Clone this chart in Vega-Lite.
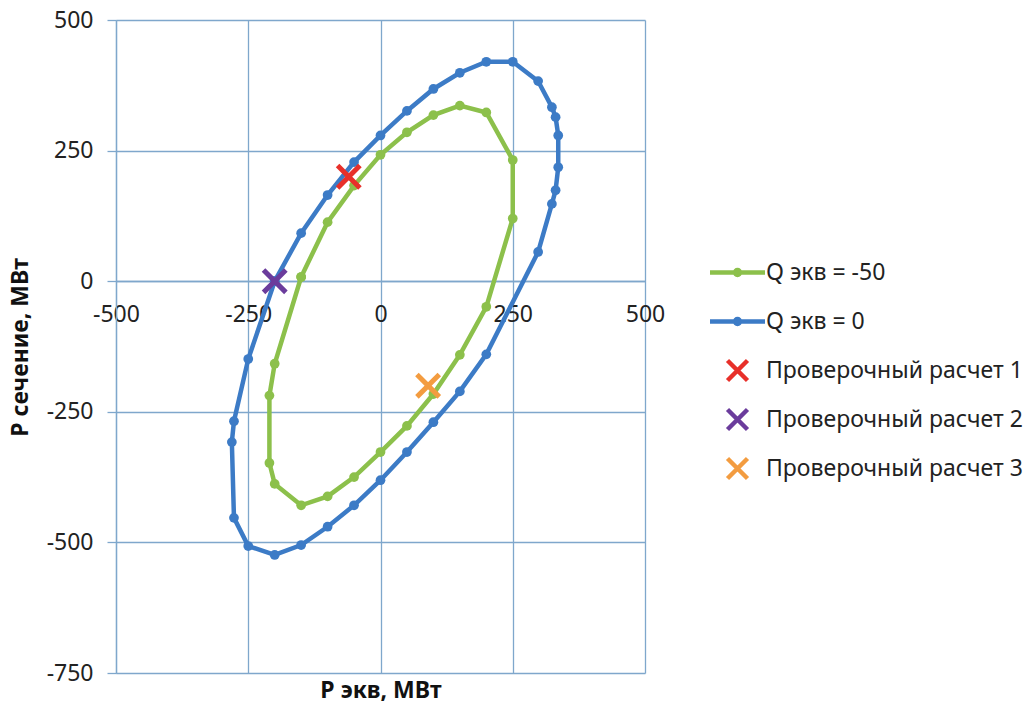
{
  "$schema": "https://vega.github.io/schema/vega-lite/v6.json",
  "width": 529,
  "height": 653,
  "autosize": "none",
  "padding": {"left": 116, "top": 20, "right": 381, "bottom": 36},
  "background": "white",
  "config": {
    "font": "Noto Sans",
    "view": {"stroke": null},
    "axis": {"labelColor": "#222222", "titleColor": "#111111", "gridColor": "#7fa7cc", "domainColor": "#7fa7cc", "tickColor": "#7fa7cc", "gridWidth": 1.3, "domainWidth": 1.3, "tickWidth": 1.3}
  },
  "datasets": {
    "curves": [
      {"series": "Q экв = 0", "order": 1, "x": -200, "y": 0},
      {"series": "Q экв = 0", "order": 2, "x": -150, "y": 92},
      {"series": "Q экв = 0", "order": 3, "x": -100, "y": 165},
      {"series": "Q экв = 0", "order": 4, "x": -50, "y": 228},
      {"series": "Q экв = 0", "order": 5, "x": 0, "y": 279},
      {"series": "Q экв = 0", "order": 6, "x": 50, "y": 326},
      {"series": "Q экв = 0", "order": 7, "x": 100, "y": 368},
      {"series": "Q экв = 0", "order": 8, "x": 150, "y": 399},
      {"series": "Q экв = 0", "order": 9, "x": 200, "y": 420},
      {"series": "Q экв = 0", "order": 10, "x": 250, "y": 420},
      {"series": "Q экв = 0", "order": 11, "x": 298, "y": 383},
      {"series": "Q экв = 0", "order": 12, "x": 324, "y": 333},
      {"series": "Q экв = 0", "order": 13, "x": 331, "y": 314},
      {"series": "Q экв = 0", "order": 14, "x": 336, "y": 279},
      {"series": "Q экв = 0", "order": 15, "x": 336, "y": 218},
      {"series": "Q экв = 0", "order": 16, "x": 331, "y": 174},
      {"series": "Q экв = 0", "order": 17, "x": 324, "y": 148},
      {"series": "Q экв = 0", "order": 18, "x": 298, "y": 56},
      {"series": "Q экв = 0", "order": 19, "x": 200, "y": -140},
      {"series": "Q экв = 0", "order": 20, "x": 150, "y": -211},
      {"series": "Q экв = 0", "order": 21, "x": 100, "y": -270},
      {"series": "Q экв = 0", "order": 22, "x": 50, "y": -327},
      {"series": "Q экв = 0", "order": 23, "x": 0, "y": -381},
      {"series": "Q экв = 0", "order": 24, "x": -50, "y": -429},
      {"series": "Q экв = 0", "order": 25, "x": -100, "y": -470},
      {"series": "Q экв = 0", "order": 26, "x": -150, "y": -505},
      {"series": "Q экв = 0", "order": 27, "x": -200, "y": -524},
      {"series": "Q экв = 0", "order": 28, "x": -250, "y": -507},
      {"series": "Q экв = 0", "order": 29, "x": -277, "y": -453},
      {"series": "Q экв = 0", "order": 30, "x": -281, "y": -308},
      {"series": "Q экв = 0", "order": 31, "x": -277, "y": -268},
      {"series": "Q экв = 0", "order": 32, "x": -250, "y": -149},
      {"series": "Q экв = 0", "order": 33, "x": -200, "y": 0},
      {"series": "Q экв = -50", "order": 1, "x": -150, "y": 8},
      {"series": "Q экв = -50", "order": 2, "x": -100, "y": 113},
      {"series": "Q экв = -50", "order": 3, "x": -50, "y": 183},
      {"series": "Q экв = -50", "order": 4, "x": 0, "y": 242},
      {"series": "Q экв = -50", "order": 5, "x": 50, "y": 285},
      {"series": "Q экв = -50", "order": 6, "x": 100, "y": 318},
      {"series": "Q экв = -50", "order": 7, "x": 150, "y": 336},
      {"series": "Q экв = -50", "order": 8, "x": 200, "y": 323},
      {"series": "Q экв = -50", "order": 9, "x": 250, "y": 232},
      {"series": "Q экв = -50", "order": 10, "x": 250, "y": 120},
      {"series": "Q экв = -50", "order": 11, "x": 200, "y": -49},
      {"series": "Q экв = -50", "order": 12, "x": 150, "y": -141},
      {"series": "Q экв = -50", "order": 13, "x": 100, "y": -216},
      {"series": "Q экв = -50", "order": 14, "x": 50, "y": -277},
      {"series": "Q экв = -50", "order": 15, "x": 0, "y": -327},
      {"series": "Q экв = -50", "order": 16, "x": -50, "y": -375},
      {"series": "Q экв = -50", "order": 17, "x": -100, "y": -412},
      {"series": "Q экв = -50", "order": 18, "x": -150, "y": -429},
      {"series": "Q экв = -50", "order": 19, "x": -200, "y": -388},
      {"series": "Q экв = -50", "order": 20, "x": -210, "y": -348},
      {"series": "Q экв = -50", "order": 21, "x": -210, "y": -219},
      {"series": "Q экв = -50", "order": 22, "x": -200, "y": -158},
      {"series": "Q экв = -50", "order": 23, "x": -150, "y": 8}
    ],
    "checks": [
      {"series": "Проверочный расчет 1", "x": -60, "y": 200},
      {"series": "Проверочный расчет 2", "x": -200, "y": 0},
      {"series": "Проверочный расчет 3", "x": 90, "y": -200}
    ]
  },
  "encoding": {
    "x": {
      "field": "x", "type": "quantitative",
      "scale": {"domain": [-500, 500], "nice": false, "zero": false},
      "axis": {
        "orient": "bottom", "offset": -392, "values": [-500, -250, 0, 250, 500],
        "labelExpr": "'' + datum.value",
        "grid": true, "ticks": false, "labelPadding": 33, "labelBaseline": "middle",
        "labelFontSize": 23, "labelFlush": false,
        "title": "Р экв, МВт", "titleFontSize": 23, "titleFontWeight": "bold",
        "titleY": 409, "titleBaseline": "middle"
      }
    },
    "y": {
      "field": "y", "type": "quantitative",
      "scale": {"domain": [-750, 500], "nice": false, "zero": false},
      "axis": {
        "values": [-750, -500, -250, 0, 250, 500],
        "labelExpr": "'' + datum.value",
        "grid": true, "ticks": true, "tickSize": 9, "labelPadding": 14,
        "labelFontSize": 23, "labelFlush": false,
        "title": "Р сечение, МВт", "titleFontSize": 23, "titleFontWeight": "bold",
        "titleX": -96, "titleY": 327, "titleAngle": -90, "titleAlign": "center", "titleBaseline": "middle"
      }
    },
    "color": {
      "field": "series", "type": "nominal",
      "scale": {
        "domain": ["Q экв = -50", "Q экв = 0", "Проверочный расчет 1", "Проверочный расчет 2", "Проверочный расчет 3"],
        "range": ["#8cc04b", "#3c7bc6", "#e8302a", "#6b3c9c", "#f39c40"]
      },
      "legend": {
        "title": null, "orient": "none", "legendX": 609, "legendY": 240,
        "padding": 0, "labelFontSize": 23, "labelColor": "#222222", "labelOffset": 16,
        "rowPadding": 10, "gridAlign": "all", "symbolSize": 400, "labelLimit": 400,
        "encode": {
          "symbols": {
            "update": {
              "shape": {"signal": "indexof(['Q экв = -50','Q экв = 0'], datum.value) >= 0 ? 'M-2.75,0H2.75M0,-0.25A0.25,0.25 0 1,1 0,0.25A0.25,0.25 0 1,1 0,-0.25Z' : 'M-1,-1L1,1M-1,1L1,-1'"},
              "stroke": {"scale": "color", "field": "value"},
              "fill": {"scale": "color", "field": "value"},
              "strokeWidth": {"value": 4.5},
              "size": {"value": 400},
              "opacity": {"value": 1},
              "fillOpacity": {"value": 1},
              "strokeOpacity": {"value": 1}
            }
          }
        }
      }
    }
  },
  "layer": [
    {
      "data": {"name": "curves"},
      "mark": {"type": "line", "strokeWidth": 4.5, "point": {"filled": true, "size": 95, "opacity": 1}},
      "encoding": {
        "order": {"field": "order", "type": "quantitative"},
        "detail": {"field": "series"}
      }
    },
    {
      "data": {"name": "checks"},
      "mark": {"type": "point", "shape": "M-1,-1L1,1M-1,1L1,-1", "filled": false, "size": 500, "strokeWidth": 5, "opacity": 1}
    }
  ]
}
